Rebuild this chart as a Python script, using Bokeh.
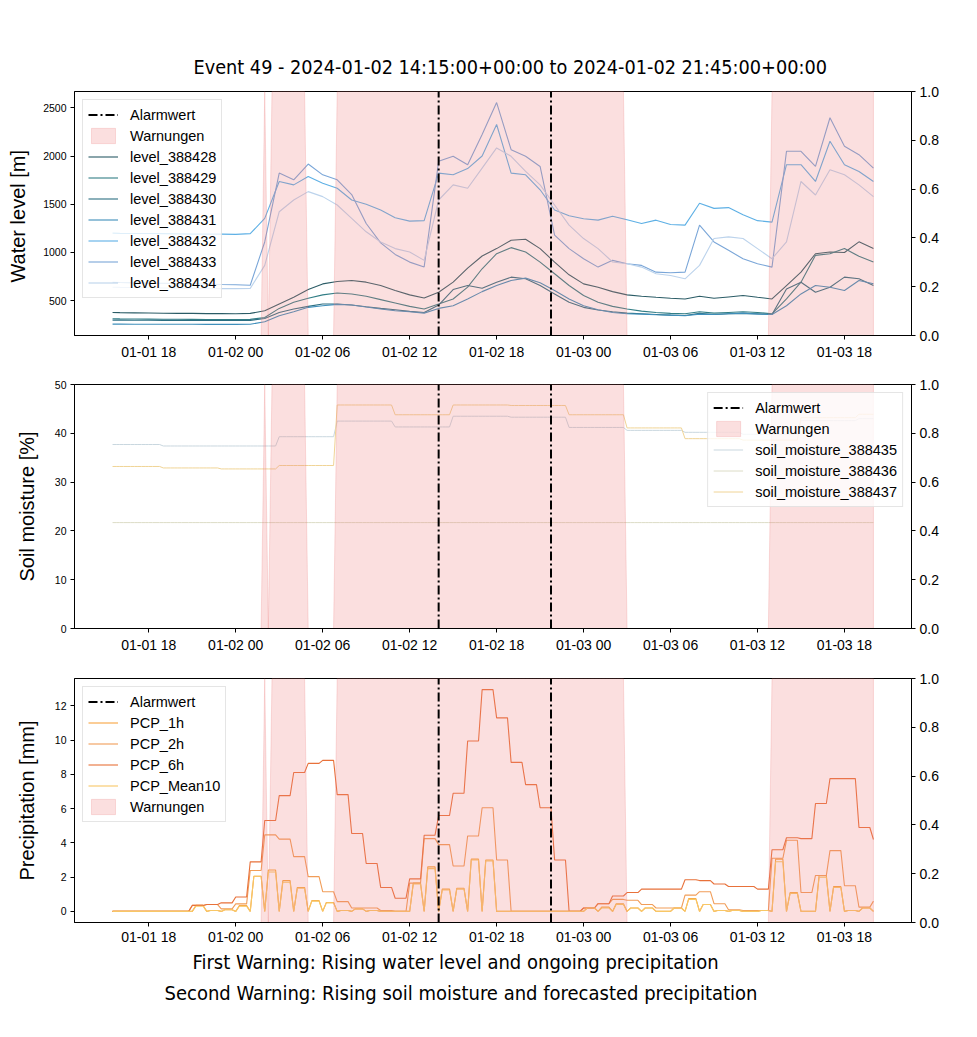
import numpy as np
import pandas as pd
from bokeh.embed import file_html
from bokeh.layouts import column
from bokeh.models import (DatetimeTickFormatter, FixedTicker, Legend, LegendItem,
                          LinearAxis, PrintfTickFormatter, Range1d, Title)
from bokeh.plotting import figure
from bokeh.resources import INLINE

# ---------------------------------------------------------------- texts
TITLE = "Event 49 - 2024-01-02 14:15:00+00:00 to 2024-01-02 21:45:00+00:00"
NOTE_1 = "First Warning: Rising water level and ongoing precipitation"
NOTE_2 = "Second Warning: Rising soil moisture and forecasted precipitation"

# ---------------------------------------------------------------- time axis
time_ticks = pd.date_range("2024-01-01 18:00", "2024-01-03 18:00", freq="6h")
alarm_times = pd.to_datetime(["2024-01-02 14:00", "2024-01-02 21:45"])
warning_periods = [
    ("2024-01-02 02:00", "2024-01-02 02:00"),
    ("2024-01-02 02:30", "2024-01-02 04:45"),
    ("2024-01-02 07:00", "2024-01-03 02:45"),
    ("2024-01-03 13:00", "2024-01-03 20:00"),
]

# ---------------------------------------------------------------- water levels [m]
level_times = pd.DatetimeIndex(["2024-01-01 15:30"]).append(
    pd.date_range("2024-01-01 16:00", "2024-01-03 20:00", freq="h"))

level_388428 = [378, 376, 374, 372, 370, 368, 368, 366, 366, 365, 368,
                396, 466, 535, 615, 674, 699, 709, 692, 657, 605, 560, 528,
                587, 692, 838, 963, 1040, 1127, 1137, 1040, 900, 768, 674, 640,
                594, 560, 546, 535, 525, 518, 546, 525, 539, 553, 535, 518,
                657, 796, 987, 1005, 1000, 1110, 1040]
level_388429 = [312, 311, 310, 309, 308, 307, 306, 305, 305, 305, 306,
                326, 420, 483, 525, 560, 580, 570, 546, 511, 476, 441, 413,
                466, 518, 640, 831, 987, 1050, 1005, 900, 779, 657, 553, 483,
                441, 413, 392, 378, 368, 364, 385, 371, 378, 385, 378, 364,
                518, 692, 970, 987, 1040, 960, 900]
level_388430 = [298, 298, 297, 297, 296, 296, 295, 295, 295, 295, 296,
                315, 378, 413, 441, 466, 466, 455, 437, 420, 406, 389, 378,
                455, 615, 657, 629, 691, 744, 727, 657, 570, 483, 431, 403,
                385, 371, 364, 357, 350, 347, 368, 357, 364, 368, 364, 357,
                622, 691, 587, 640, 744, 727, 657]
level_388431 = [257, 257, 256, 256, 255, 255, 255, 254, 254, 254, 255,
                281, 344, 385, 431, 448, 462, 455, 434, 413, 396, 385, 371,
                420, 448, 518, 594, 657, 709, 734, 685, 605, 518, 448, 406,
                378, 364, 361, 354, 350, 344, 361, 357, 364, 371, 361, 357,
                448, 570, 657, 640, 605, 709, 675]
level_388432 = [1200, 1198, 1196, 1196, 1195, 1193, 1190, 1192, 1190, 1188, 1195,
                1353, 1736, 1701, 1788, 1718, 1666, 1544, 1500, 1440, 1360, 1325, 1330,
                1823, 1805, 1870, 2000, 2327, 1823, 1805, 1650, 1440, 1380, 1350, 1335,
                1375, 1340, 1300, 1335, 1290, 1283, 1510, 1457, 1465, 1390, 1330, 1315,
                1910, 1910, 1736, 2153, 1910, 1840, 1736]
level_388433 = [690, 688, 685, 682, 680, 678, 675, 672, 668, 665, 660,
                1109, 1823, 1753, 1917, 1805, 1753, 1600, 1300, 1100, 980, 900, 850,
                1945, 1997, 1910, 2223, 2554, 2066, 1997, 1892, 1179, 1040, 935, 848,
                918, 883, 866, 796, 789, 796, 1283, 1109, 1022, 935, 883, 848,
                2049, 2049, 1892, 2397, 2101, 2014, 1875]
level_388434 = [640, 638, 636, 634, 632, 630, 628, 626, 625, 625, 628,
                866, 1422, 1544, 1631, 1579, 1492, 1353, 1214, 1109, 1040, 1005, 918,
                1544, 1701, 1666, 1875, 2084, 1997, 1840, 1701, 1492, 1283, 1144, 1040,
                901, 883, 848, 779, 761, 727, 866, 1144, 1162, 1144, 1040, 935,
                1109, 1736, 1596, 1858, 1805, 1701, 1579]

level_names = ["level_388428", "level_388429", "level_388430", "level_388431",
               "level_388432", "level_388433", "level_388434"]
level_series = [level_388428, level_388429, level_388430, level_388431,
                level_388432, level_388433, level_388434]
level_colors = ["#2b5c66", "#327e86", "#2c6f82", "#3f8fbb",
                "#5eb0e5", "#7aa6d8", "#bcd3ec"]
level_ticks = [500, 1000, 1500, 2000, 2500]

# ---------------------------------------------------------------- soil moisture [%], 4-hourly
soil_times = pd.to_datetime([
    "2024-01-01 15:00", "2024-01-01 19:00", "2024-01-01 23:00", "2024-01-02 03:00",
    "2024-01-02 07:00", "2024-01-02 11:00", "2024-01-02 15:00", "2024-01-02 19:00",
    "2024-01-02 23:00", "2024-01-03 03:00", "2024-01-03 07:00", "2024-01-03 11:00",
    "2024-01-03 15:00", "2024-01-03 19:00"])
soil_moisture_388435 = [37.7, 37.4, 37.4, 39.3, 42.5, 41.3, 43.5, 43.3, 41.2, 40.6, 40.2, 39.8, 42.6, 43.0]
soil_moisture_388436 = [21.7, 21.7, 21.7, 21.7, 21.7, 21.7, 21.7, 21.7, 21.7, 21.7, 21.7, 21.7, 21.7, 21.7]
soil_moisture_388437 = [33.2, 32.9, 32.7, 33.4, 45.8, 43.8, 45.8, 45.7, 43.8, 41.1, 38.9, 38.6, 43.2, 43.9]
soil_names = ["soil_moisture_388435", "soil_moisture_388436", "soil_moisture_388437"]
soil_series = [soil_moisture_388435, soil_moisture_388436, soil_moisture_388437]
soil_colors = ["#c9d7df", "#dcdcc6", "#f0d496"]
soil_ticks = [0, 10, 20, 30, 40, 50]

# ---------------------------------------------------------------- precipitation [mm], hourly blocks
pcp_hours = pd.date_range("2024-01-01 15:00", "2024-01-03 20:00", freq="h")
PCP_1h = [0, 0, 0, 0, 0, 0,
          0.35, 0.05, 0.1, 0.34, 2.05, 2.42, 1.8, 1.4, 0.63, 0.52, 0.05, 0.15, 0.05, 0, 0,
          1.65, 2.6, 1.3, 1.35, 3.05, 3.0, 0, 0, 0, 0, 0, 0,
          0.2, 0.25, 0.45, 0.2, 0.2, 0, 0.2, 0.75, 0.4, 0.05, 0.05, 0, 0.05,
          3.05, 1.1, 0, 2.1, 1.45, 0.05, 0.2, 0.4]
PCP_2h = [0, 0, 0, 0, 0, 0,
          0.35, 0.4, 0.15, 0.44, 2.39, 4.47, 4.22, 3.2, 2.03, 1.15, 0.57, 0.2, 0.2, 0.05, 0,
          1.65, 4.25, 3.9, 2.65, 4.4, 6.05, 3.0, 0, 0, 0, 0, 0,
          0.2, 0.45, 0.7, 0.65, 0.4, 0.2, 0.2, 0.95, 1.15, 0.45, 0.1, 0.05, 0.05,
          3.1, 4.15, 1.1, 2.1, 3.55, 1.5, 0.25, 0.6]
PCP_6h = [0, 0, 0, 0, 0, 0,
          0.35, 0.4, 0.5, 0.84, 2.89, 5.31, 6.76, 8.11, 8.64, 8.82, 6.82, 4.55, 2.8, 1.4, 0.77,
          1.9, 4.45, 5.6, 6.9, 9.95, 12.95, 11.3, 8.7, 7.4, 6.05, 3.0, 0,
          0.2, 0.45, 0.9, 1.1, 1.3, 1.3, 1.3, 1.85, 1.8, 1.6, 1.45, 1.45, 1.3,
          3.6, 4.3, 4.25, 6.3, 7.75, 7.75, 4.9, 4.2]
PCP_Mean10 = [0, 0, 0, 0, 0, 0,
              0.3, 0.05, 0.1, 0.3, 2.05, 2.3, 1.7, 1.35, 0.6, 0.5, 0.05, 0.15, 0.05, 0, 0,
              1.6, 2.5, 1.25, 1.3, 3.0, 2.95, 0, 0, 0, 0, 0, 0,
              0.2, 0.2, 0.4, 0.2, 0.2, 0, 0.2, 0.7, 0.4, 0.05, 0.05, 0, 0.05,
              2.9, 1.05, 0, 2.0, 1.4, 0.05, 0.2, 0.35]
pcp_names = ["PCP_1h", "PCP_2h", "PCP_6h", "PCP_Mean10"]
pcp_series = [PCP_1h, PCP_2h, PCP_6h, PCP_Mean10]
pcp_gauged = [True, False, False, True]   # hourly gauge totals: the on-the-hour slot stays empty
pcp_colors = ["#f7a541", "#f19d58", "#e8713a", "#f8c766"]
pcp_ticks = [0, 2, 4, 6, 8, 10, 12]

warn_ticks = [0.0, 0.2, 0.4, 0.6, 0.8, 1.0]

# ---------------------------------------------------------------- helpers
q = pd.date_range("2024-01-01 15:30", "2024-01-03 20:00", freq="15min")


def ms(idx):
    return pd.DatetimeIndex(idx).asi8.astype(float) / 1e6


def hold(times, vals):
    s = pd.Series(np.asarray(vals, dtype=float), index=pd.DatetimeIndex(times))
    return s.reindex(q, method="ffill").to_numpy()


warn_flag = np.zeros(len(q))
for a, b in warning_periods:
    warn_flag[(q >= pd.Timestamp(a)) & (q <= pd.Timestamp(b))] = 1.0

qx = ms(q)
x_pad = 0.05 * (qx[-1] - qx[0])
x_range = Range1d(qx[0] - x_pad, qx[-1] + x_pad)


def padded(vals_list):
    lo = min(min(v) for v in vals_list)
    hi = max(max(v) for v in vals_list)
    d = 0.05 * (hi - lo)
    return Range1d(lo - d, hi + d)


FONT = "Liberation Sans"
COND = "DejaVu Sans Condensed"
DASH = "9 3 2 3"


def panel(height, top, bottom, y_range, ylabel, yticks, label_gap):
    p = figure(width=977, height=height, x_range=x_range, y_range=y_range,
               x_axis_type="datetime", output_backend="svg", toolbar_location=None,
               min_border_left=74, min_border_right=66,
               min_border_top=top, min_border_bottom=bottom)
    p.extra_y_ranges = {"warn": Range1d(0, 1)}
    p.add_layout(LinearAxis(y_range_name="warn", ticker=FixedTicker(ticks=warn_ticks),
                            formatter=PrintfTickFormatter(format="%.1f")), "right")
    p.xaxis.ticker = FixedTicker(ticks=list(ms(time_ticks)))
    fmt = "%m-%d %H"
    p.xaxis.formatter = DatetimeTickFormatter(hours=fmt, hourmin=fmt, days=fmt, minutes=fmt,
                                              minsec=fmt, seconds=fmt, months=fmt, years=fmt,
                                              context=None)
    p.yaxis[0].ticker = FixedTicker(ticks=yticks)
    p.yaxis[0].axis_label = ylabel
    p.yaxis[0].axis_label_text_font = FONT
    p.yaxis[0].axis_label_text_font_size = "20px"
    p.yaxis[0].axis_label_text_font_style = "normal"
    p.yaxis[0].axis_label_text_color = "black"
    p.yaxis[0].axis_label_standoff = label_gap
    p.yaxis[0].major_label_text_font_size = "10.5px"
    for ax in [p.xaxis[0], p.yaxis[1]]:
        ax.major_label_text_font_size = "14px"
    for ax in list(p.xaxis) + list(p.yaxis):
        ax.axis_line_color = "black"
        ax.major_tick_line_color = "black"
        ax.minor_tick_line_color = None
        ax.major_tick_out = 4
        ax.major_tick_in = 0
        ax.major_label_standoff = 4
        ax.major_label_text_font = FONT
        ax.major_label_text_color = "black"
    p.xgrid.visible = False
    p.ygrid.visible = False
    p.outline_line_color = "black"
    p.outline_line_width = 1
    p.background_fill_color = "white"
    p.border_fill_color = "white"
    return p


def add_alarm(p):
    t = ms(alarm_times)
    return p.segment(x0=t, y0=[0.0] * len(t), x1=t, y1=[1.0] * len(t),
                     y_range_name="warn", line_color="black", line_width=2, line_dash=DASH)


def add_warnings(p):
    xs = np.concatenate([qx, qx[::-1]])
    ys = np.concatenate([warn_flag, np.zeros(len(qx))])
    return p.patch(x=xs, y=ys, y_range_name="warn", fill_color="lightcoral",
                   fill_alpha=0.25, line_color="lightcoral", line_alpha=0.25, line_width=1)


def add_legend(p, items, location):
    lg = Legend(items=items, location=location, label_text_font=FONT,
                label_text_font_size="14.5px", label_text_color="black",
                glyph_width=30, glyph_height=19, label_height=19, spacing=2,
                padding=5, margin=8, label_standoff=12,
                border_line_color="#cccccc", border_line_width=1,
                background_fill_alpha=0.8)
    p.add_layout(lg)


# ---------------------------------------------------------------- panel 1: water level
p1 = panel(365, 91, 30, padded(level_series), "Water level  [m]", level_ticks, 11)
lx = ms(level_times)
level_r = []
for name, vals, col in zip(level_names, level_series, level_colors):
    level_r.append(p1.line(lx, vals, line_color=col, line_width=1.1))
warn1 = add_warnings(p1)
alarm1 = add_alarm(p1)
add_legend(p1, [LegendItem(label="Alarmwert", renderers=[alarm1]),
                LegendItem(label="Warnungen", renderers=[warn1])] +
           [LegendItem(label=n, renderers=[r]) for n, r in zip(level_names, level_r)],
           "top_left")
p1.title = Title(text=TITLE, align="left", offset=119, standoff=26,
                 text_font=COND, text_font_size="19.7px",
                 text_font_style="normal", text_color="black")

# ---------------------------------------------------------------- panel 2: soil moisture
p2 = panel(290, 19, 26, Range1d(0, 50), "Soil moisture [%]", soil_ticks, 14)
soil_r = []
for name, vals, col in zip(soil_names, soil_series, soil_colors):
    soil_r.append(p2.line(qx, hold(soil_times, vals), line_color=col, line_width=1))
warn2 = add_warnings(p2)
alarm2 = add_alarm(p2)
add_legend(p2, [LegendItem(label="Alarmwert", renderers=[alarm2]),
                LegendItem(label="Warnungen", renderers=[warn2])] +
           [LegendItem(label=n, renderers=[r]) for n, r in zip(soil_names, soil_r)],
           "top_right")

# ---------------------------------------------------------------- panel 3: precipitation
p3 = panel(382, 23, 115, padded(pcp_series), "Precipitation [mm]", pcp_ticks, 14)
p3.xaxis[0].major_label_standoff = 2
pcp_r = []
on_slot = q.minute != 0
for name, vals, col, gauged in zip(pcp_names, pcp_series, pcp_colors, pcp_gauged):
    y = hold(pcp_hours, vals)
    if gauged:
        y = np.where(on_slot, y, 0.0)
    pcp_r.append(p3.line(qx, y, line_color=col, line_width=1.1))
warn3 = add_warnings(p3)
alarm3 = add_alarm(p3)
add_legend(p3, [LegendItem(label="Alarmwert", renderers=[alarm3])] +
           [LegendItem(label=n, renderers=[r]) for n, r in zip(pcp_names, pcp_r)] +
           [LegendItem(label="Warnungen", renderers=[warn3])],
           "top_left")
p3.add_layout(Title(text=NOTE_1, align="left", offset=118, standoff=0,
                    text_font=COND, text_font_size="20px",
                    text_font_style="normal", text_color="black"), "below")
p3.add_layout(Title(text=NOTE_2, align="left", offset=90, standoff=11,
                    text_font=COND, text_font_size="20px",
                    text_font_style="normal", text_color="black"), "below")

layout = column(p1, p2, p3, spacing=0)
open("out.html", "w").write(file_html(layout, INLINE))
